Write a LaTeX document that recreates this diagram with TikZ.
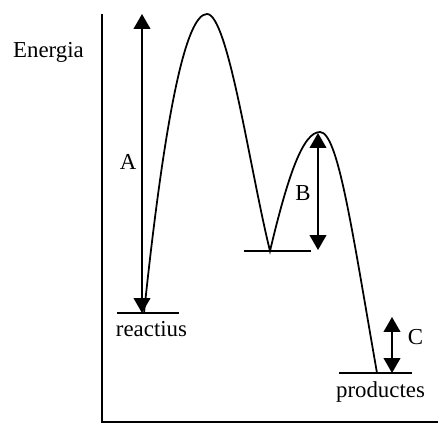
\documentclass[tikz,border=0pt]{standalone}
\usepackage{fontspec}
\setmainfont{Liberation Serif}
\usetikzlibrary{arrows.meta}
\begin{document}
\begin{tikzpicture}[x=.02cm,y=-.02cm,line width=1pt,
  dbl/.style={{Triangle[width=9.5pt,length=8.5pt]}-{Triangle[width=9.5pt,length=8.5pt]}},
  lbl/.style={font=\fontsize{13}{15}\selectfont,anchor=base,inner sep=0pt}]
\useasboundingbox (0,0) rectangle (442,426);
% eixos
\coordinate (o) at (102,422);
\coordinate (ytop) at (102,14);
\coordinate (xend) at (438,422);
\draw (ytop) -- (o) -- (xend);
\node[lbl] (energia) at (48.5,57) {Energia};
% nivells
\coordinate (r1) at (117,313); \coordinate (r2) at (179,313);
\coordinate (i1) at (244,251); \coordinate (i2) at (311,251);
\coordinate (p1) at (339,373); \coordinate (p2) at (412,373);
\draw (r1) -- (r2);
\draw (i1) -- (i2);
\draw (p1) -- (p2);
\node[lbl] (reac) at (151.5,336) {reactius};
\node[lbl] (prod) at (380.5,397) {productes};
% perfil
\draw (144,313) .. controls (165,113) and (186,14) .. (207,14)
  .. controls (228,14) and (250,170) .. (270,251)
  .. controls (288,175) and (303,132) .. (320,132)
  .. controls (338,132) and (352,230) .. (377,373);
% fletxes
\coordinate (a1) at (142,313); \coordinate (a2) at (142,14);
\coordinate (b1) at (318,133); \coordinate (b2) at (318,250);
\coordinate (c1) at (392,317); \coordinate (c2) at (392,373);
\draw[dbl] (a1) -- (a2);
\draw[dbl] (b1) -- (b2);
\draw[dbl] (c1) -- (c2);
\node[lbl] (la) at (128,169) {A};
\node[lbl] (lb) at (303,200) {B};
\node[lbl] (lc) at (415.5,344) {C};
\end{tikzpicture}
\end{document}
